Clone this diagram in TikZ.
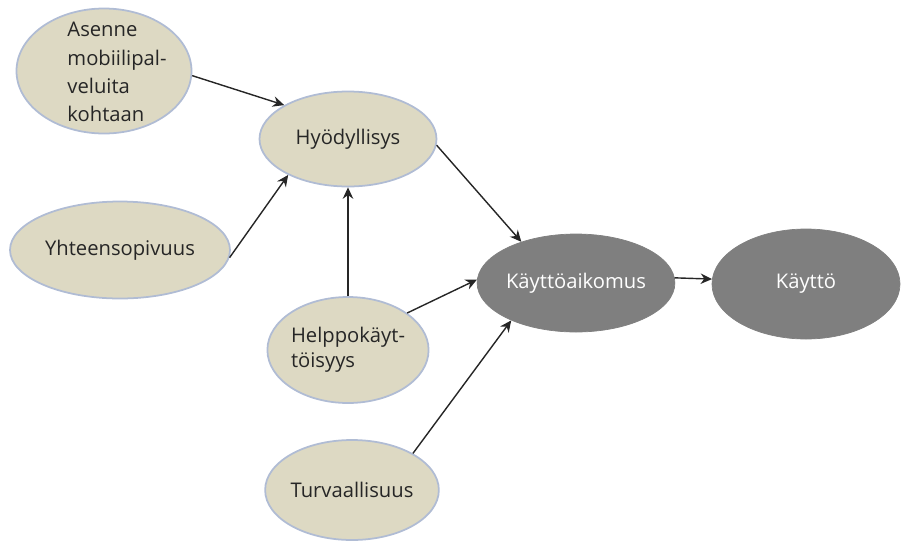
\documentclass[tikz,border=0pt]{standalone}
\usepackage{fontspec}
\setmainfont{Open Sans}
\usepackage{tikz}
\usetikzlibrary{arrows.meta}
\usetikzlibrary{shapes.geometric}
\definecolor{beige}{HTML}{DDD9C3}
\definecolor{rimblue}{HTML}{B0BCD4}
\definecolor{darkgrey}{HTML}{7F7F7F}
\definecolor{inkgrey}{HTML}{262626}
\tikzset{
    enode/.style = {ellipse, inner sep=0pt, font=\fontsize{11.5}{14}\selectfont},
    beige_node/.style = {enode, fill=beige, draw=rimblue, line width=1pt, text=inkgrey},
    grey_node/.style = {enode, fill=darkgrey, draw=darkgrey, text=white},
    tnode/.style = {inner sep=0pt, text=inkgrey, align=left, font=\fontsize{11.5}{16}\selectfont},
    esize/.style 2 args = {minimum width=#1*0.02cm, minimum height=#2*0.02cm},
    link/.style = {->, draw=inkgrey, line width=0.8pt}
}

\begin{document}
\begin{tikzpicture}
            [>={Stealth[length=6.5pt, width=6pt]}, x=0.02cm, y=-0.02cm]
            \useasboundingbox (0,0) rectangle (907,549);

            \node [beige_node, esize={175}{125}] (asenne) at (104,71) {};
            \node [tnode] (asenne_txt) at (117,72) {Asenne\\mobiilipal-\\veluita\\kohtaan};
            \node [beige_node, esize={177}{95}] (hyod) at (348,139) {Hyödyllisys};
            \node [beige_node, esize={220}{97}] (yht) at (120,250) {Yhteensopivuus};
            \node [beige_node, esize={160}{106}, align=left] (helppo) at (348,350)
                {Helppokäyt-\\töisyys};
            \node [beige_node, esize={170}{100}] (turva) at (352,490) {Turvaallisuus};
            \node [grey_node, esize={164}{98}] (aikomus) at (576,283) {Käyttöaikomus};
            \node [grey_node, esize={188}{110}] (kaytto) at (806,284) {Käyttö};

            \draw [link] (asenne.-3) -- (hyod.152);
            \draw [link] (yht.-4) -- (hyod.211);
            \draw [link] (helppo) -- (hyod);
            \draw [link] (hyod.-4) -- (aikomus.143);
            \draw [link] (helppo.32) -- (aikomus.178);
            \draw [link] (turva.31) -- (aikomus.210);
            \draw [link] (aikomus.3) -- (kaytto.177);
\end{tikzpicture}
\end{document}
